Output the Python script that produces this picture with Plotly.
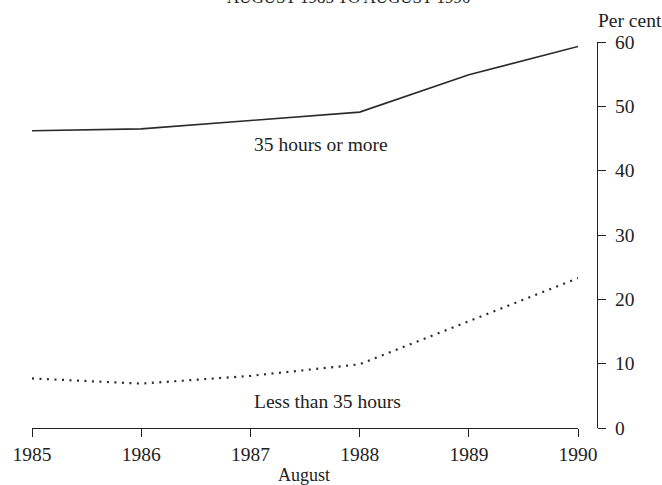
import plotly.graph_objects as go

years = [1985, 1986, 1987, 1988, 1989, 1990]
full_time = [46.2, 46.5, 47.8, 49.1, 54.9, 59.3]
part_time = [7.7, 6.9, 8.1, 9.9, 16.6, 23.3]
y_ticks = [0, 10, 20, 30, 40, 50, 60]

FONT = "Liberation Serif"
INK = "#222222"
FS = 19.5

W, H = 662, 485
L, R, T, B = 29, 65, 42, 56.5
pw = W - L - R
ph = H - T - B

def px(x):
    return (x - L) / pw

def py(y):
    return (H - B - y) / ph

fig = go.Figure()
fig.add_trace(go.Scatter(x=years, y=full_time, mode="lines",
                         line=dict(color="#2a2a2a", width=1.6), showlegend=False))
fig.add_trace(go.Scatter(x=years, y=part_time, mode="lines",
                         line=dict(color="#2a2a2a", width=2.2, dash="2px,5.5px"), showlegend=False))

fig.update_layout(
    width=W, height=H,
    margin=dict(l=L, r=R, t=T, b=B),
    paper_bgcolor="white", plot_bgcolor="white",
    font=dict(family=FONT, size=FS, color=INK),
    xaxis=dict(range=[1985, 1990], domain=[0, px(578)], tickvals=years,
               ticks="outside", ticklen=8, tickcolor=INK, tickwidth=1.4,
               showline=True, linecolor=INK, linewidth=1.4,
               showgrid=False, zeroline=False, fixedrange=True),
    yaxis=dict(range=[0, 60], tickvals=y_ticks, side="right", anchor="free", position=1,
               ticks="outside", ticklen=8, tickcolor=INK, tickwidth=1.4,
               showline=True, linecolor=INK, linewidth=1.4,
               showgrid=False, zeroline=False, fixedrange=True, ticklabelstandoff=5),
    annotations=[
        dict(text="35 hours or more", x=1987.65, y=44.0, xref="x", yref="y",
             showarrow=False, font=dict(family=FONT, size=FS, color=INK)),
        dict(text="Less than 35 hours", x=1987.71, y=4.1, xref="x", yref="y",
             showarrow=False, font=dict(family=FONT, size=FS, color=INK)),
        dict(text="Per cent", x=px(596), y=py(20), xref="paper", yref="paper",
             xanchor="left", yanchor="middle", showarrow=False,
             font=dict(family=FONT, size=FS, color=INK)),
        dict(text="August", x=px(302), y=py(476), xref="paper", yref="paper",
             xanchor="center", yanchor="middle", showarrow=False,
             font=dict(family=FONT, size=18, color=INK)),
        dict(text="AUGUST 1985 TO AUGUST 1990", x=px(347), y=py(-3), xref="paper", yref="paper",
             xanchor="center", yanchor="middle", showarrow=False,
             font=dict(family=FONT, size=17, color=INK)),
    ],
)

fig.write_html("out.html", config={"displayModeBar": False},
               post_script="document.body.style.margin='0';")
